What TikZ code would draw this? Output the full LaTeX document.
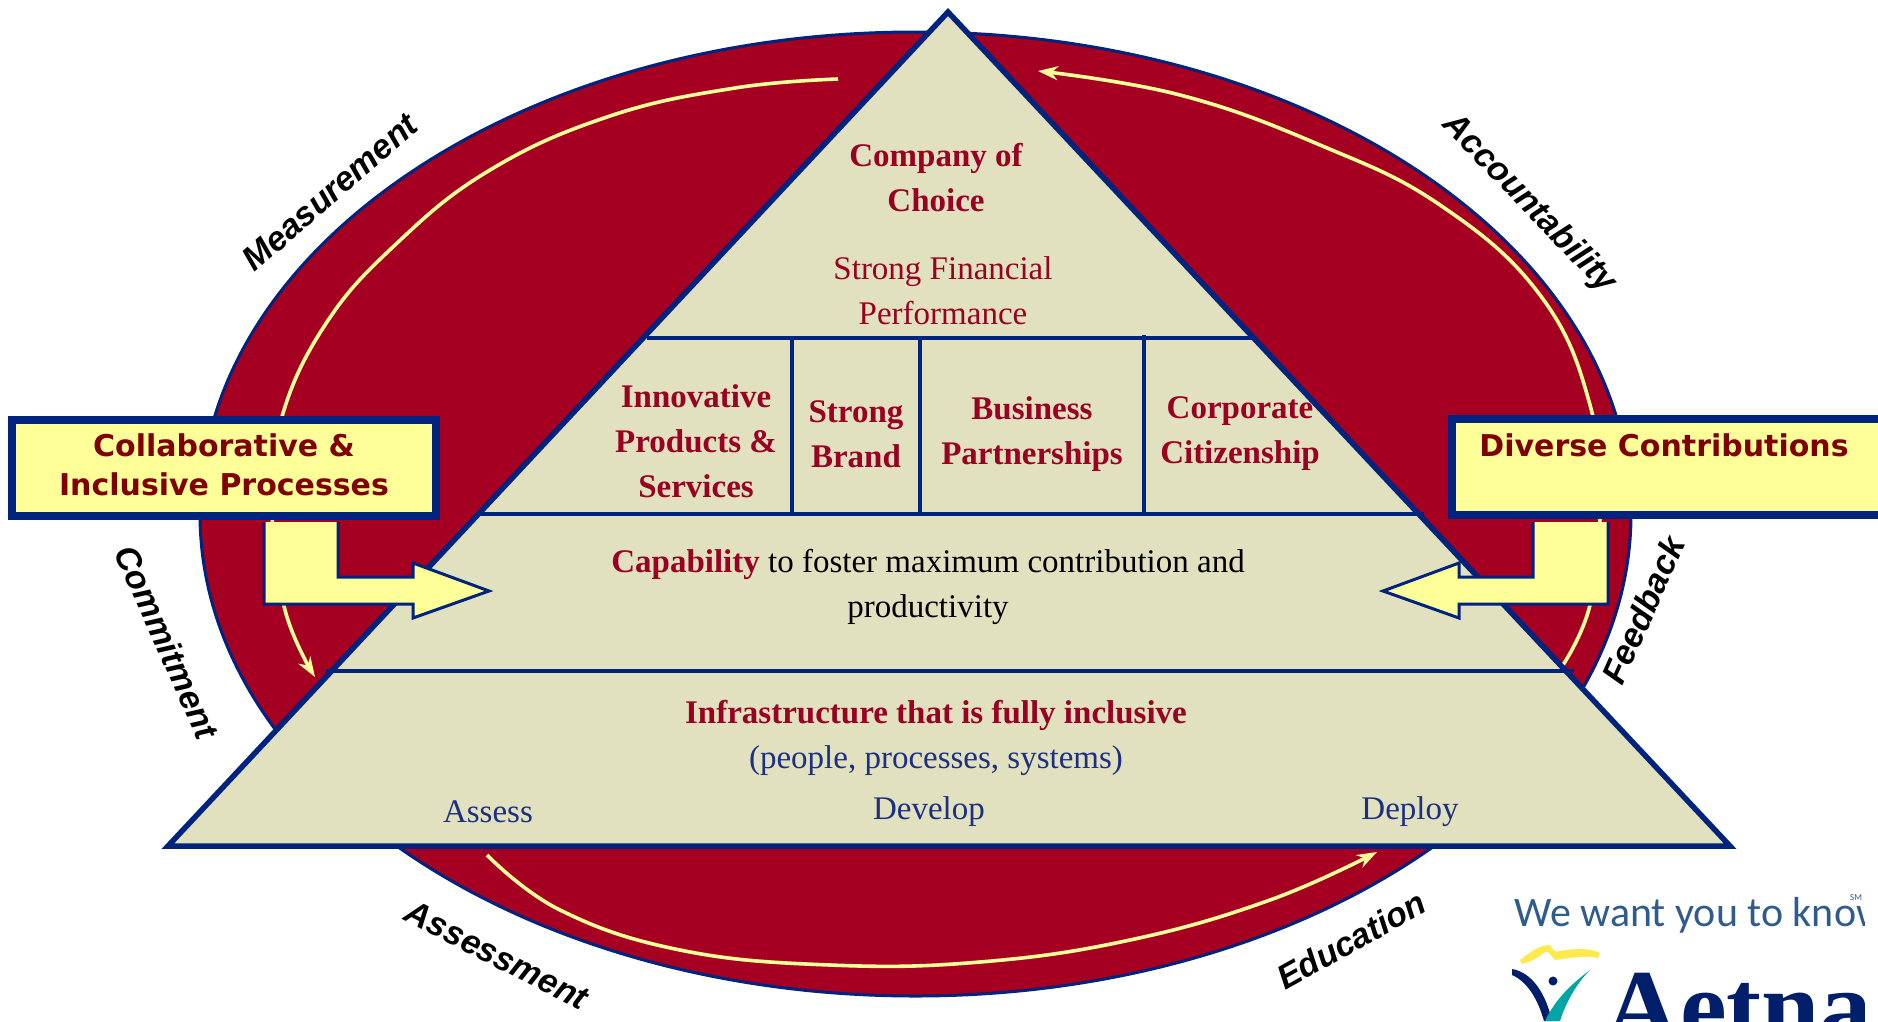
\documentclass[tikz,border=0pt]{standalone}
\usepackage{fontspec}
\setmainfont{Liberation Serif}
\newfontfamily\arialf{Liberation Sans}
\newfontfamily\verdf{DejaVu Sans}
\newfontfamily\logof{Carlito}
\usetikzlibrary{arrows.meta,shapes.geometric}
\definecolor{navy}{HTML}{00237D}
\definecolor{crim}{HTML}{A50021}
\definecolor{beige}{HTML}{E1E1BF}
\definecolor{lemon}{HTML}{FFFF99}
\definecolor{maroon}{HTML}{800000}
\definecolor{txtred}{HTML}{990022}
\definecolor{txtblue}{HTML}{1C2F80}
\definecolor{logoblue}{HTML}{2F5C8C}
\tikzset{
  pyr/.style={draw=navy,line width=5.5pt,line join=miter},
  sep/.style={draw=navy,line width=4.5pt},
  tmain/.style={font=\fontsize{33}{45}\selectfont,align=center,inner sep=0pt},
  tb/.style={tmain,font=\fontsize{33}{45}\selectfont\bfseries,text=txtred},
  tr/.style={tmain,text=txtred},
  tbl/.style={tmain,text=txtblue},
  side/.style={font=\arialf\fontsize{34}{40}\selectfont\bfseries\itshape,inner sep=0pt},
  boxt/.style={font=\verdf\fontsize{30}{39}\selectfont\bfseries,text=maroon,align=center,inner sep=0pt},
  sbox/.style={draw=navy,line width=8pt,fill=lemon,inner sep=0pt,anchor=north west},
  loop/.style={draw=lemon,line width=3.6pt},
  loopa/.style={loop,-{Stealth[length=20pt,width=14pt,fill=lemon]}},
  blk/.style={draw=navy,line width=3pt,fill=lemon,line join=miter}
}
\begin{document}
\begin{tikzpicture}[x=1pt,y=-1pt]
\useasboundingbox (0,0) rectangle (1878,1021);
% red ellipse
\node[draw=navy,line width=3pt,fill=crim,ellipse,inner sep=0pt,minimum width=1431pt,minimum height=964pt] (oval) at (915.5,514) {};
% loop arrows
\draw[loopa] plot[smooth,tension=0.7] coordinates {(838,79) (735,88) (610,116) (490,170) (395,245) (325,325) (281,420) (272,510) (285,610) (315,677)};
\draw[loopa] plot[smooth,tension=0.7] coordinates {(1563,665) (1590,605) (1600,510) (1590,405) (1540,295) (1440,205) (1320,145) (1180,95) (1038,71)};
\draw[loopa] plot[smooth,tension=0.7] coordinates {(487,855) (560,910) (680,950) (830,965) (980,962) (1130,940) (1270,900) (1377,852)};
% pyramid
\path[pyr,fill=beige] (948,12) -- (1730,846) -- (168,846) -- cycle;
\coordinate (a1) at (647,338); \coordinate (b1) at (1253,338);
\coordinate (a2) at (481,514); \coordinate (b2) at (1424,514);
\coordinate (a3) at (326,671); \coordinate (b3) at (1574,671);
\draw[sep] (a1) -- (b1);
\draw[sep] (a2) -- (b2);
\draw[sep] (a3) -- (b3);
\coordinate (v1t) at (792,338); \coordinate (v1b) at (792,514);
\coordinate (v2t) at (920,338); \coordinate (v2b) at (920,516);
\coordinate (v3t) at (1144,335); \coordinate (v3b) at (1144,514);
\draw[sep] (v1t) -- (v1b);
\draw[sep] (v2t) -- (v2b);
\draw[sep] (v3t) -- (v3b);
% texts in pyramid
\node[tb] (choice) at (936,178) {Company of\\Choice};
\node[tr] (fin) at (943,291) {Strong Financial\\Performance};
\node[tb] (innov) at (696,441) {Innovative\\Products \&\\Services};
\node[tb] (brand) at (856,434) {Strong\\Brand};
\node[tb] (biz) at (1032,434) {Business\\Partnerships};
\node[tb] (corp) at (1240,434) {Corporate\\Citizenship};
\node[tmain] (cap) at (928,587) {\textbf{\textcolor{txtred}{Capability}} to foster maximum contribution and\\productivity};
\node[tb] (infra) at (936,715) {Infrastructure that is fully inclusive};
\node[tbl] (ppl) at (936,761) {(people, processes, systems)};
\node[tbl] (assess) at (488,812) {Assess};
\node[tbl] (dev) at (929,812) {Develop};
\node[tbl] (deploy) at (1410,812) {Deploy};
% block arrows
\path[blk] (264,522) -- (264,604) -- (413,604) -- (413,618) -- (489,591) -- (413,563) -- (413,577) -- (338,577) -- (338,522);
\path[blk] (1608,522) -- (1608,604) -- (1459,604) -- (1459,618) -- (1383,591) -- (1459,563) -- (1459,577) -- (1533,577) -- (1533,522);
% side boxes
\node[sbox,minimum width=424pt,minimum height=96pt] (lbox) at (8,416) {};
\node[boxt] (ltxt) at (224,464.5) {Collaborative \&\\Inclusive Processes};
\node[sbox,minimum width=440pt,minimum height=96pt] (rbox) at (1448,415) {};
\node[boxt] (rtxt) at (1664,445) {Diverse Contributions};
% ring labels
\node[side,rotate=41] (m) at (330,192) {Measurement};
\node[side,rotate=-46] (ac) at (1529,204) {Accountability};
\node[side,rotate=-66] (co) at (167,642) {Commitment};
\node[side,rotate=66] (fe) at (1643,610) {Feedback};
\node[side,rotate=-27] (as) at (497,955) {Assessment};
\node[side,rotate=29] (ed) at (1351,940) {Education};
% logo
\begin{scope}
\clip (1512,892) rectangle (1864,1021);
\node[font=\logof\fontsize{42}{42}\selectfont,text=logoblue,anchor=base west,inner sep=0pt] (want) at (1514,926) {We want you to know};
\node[font=\logof\fontsize{9}{9}\selectfont,text=logoblue,anchor=base west,inner sep=0pt] (sm) at (1850,900) {SM};
\fill[yellow!85!orange!70!white] (1520,960) .. controls (1530,952) and (1540,945) .. (1550,945) .. controls (1553,950) and (1555,953) .. (1560,951) .. controls (1575,948) and (1590,948) .. (1600,953) -- (1598,958) .. controls (1585,955) and (1570,958) .. (1555,960) .. controls (1550,955) and (1548,950) .. (1545,952) .. controls (1538,958) and (1530,962) .. (1522,964) -- cycle;
\fill[navy!85!black] (1512,969) .. controls (1530,972) and (1545,990) .. (1552,1021) -- (1544,1021) .. controls (1538,1000) and (1528,982) .. (1512,975) -- cycle;
\fill[teal!70!cyan] (1590,970) .. controls (1570,985) and (1555,1000) .. (1545,1021) -- (1560,1021) .. controls (1565,1005) and (1575,985) .. (1590,970) -- cycle;
\fill[navy!85!black] (1553,981) circle[radius=4.5pt];
\node[font=\fontsize{105}{105}\selectfont\bfseries,text=navy!85!black,anchor=base west,inner sep=0pt] (aetna) at (1604,1042) {Aetna};
\end{scope}
\end{tikzpicture}
\end{document}
